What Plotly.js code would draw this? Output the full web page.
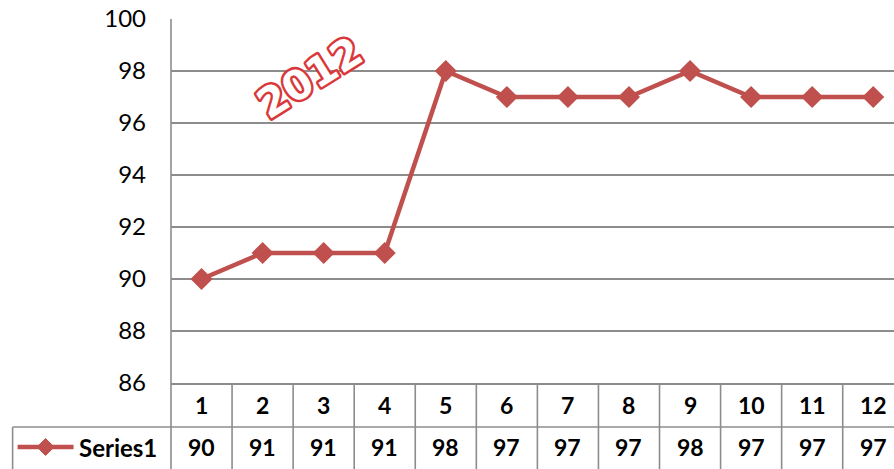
<!DOCTYPE html>
<html>
<head>
<meta charset="utf-8">
<script src="https://cdn.plot.ly/plotly-3.0.1.min.js"></script>
<style>
html,body{margin:0;padding:0;background:#fff;}
#chart{width:894px;height:469px;}
</style>
</head>
<body>
<div id="chart"></div>
<script>
// ---- data ----
var categories = [1,2,3,4,5,6,7,8,9,10,11,12];
var values = [90,91,91,91,98,97,97,97,98,97,97,97];
var seriesName = 'Series1';
var yTicks = [86,88,90,92,94,96,98,100];
var stampText = '2012';

var RED = '#c0504d';
var GRID = '#8c8c8c';
var FONT = 'Lato, "Noto Sans", sans-serif';

// pixel -> paper helpers (plot area: left 170.5, width 723.5, top 19, height 364)
var plotL = 170.5, plotW = 723.5, plotB = 383, plotH = 364;
function px(x){ return (x - plotL) / plotW; }
function py(y){ return -(y - plotB) / plotH; }
var headerMid = py(405);
var valueMid = py(447);
var rowLine = py(427);
var bottom = py(475);

var shapes = [];
// category boundary lines in the data table
for (var i = 0; i < categories.length; i++) {
  shapes.push({type:'line', xref:'x', yref:'paper', x0:categories[i]+0.5, x1:categories[i]+0.5,
    y0:0, y1:bottom, line:{color:GRID, width:1.6}});
}
// y axis line extended down through table
shapes.push({type:'line', xref:'paper', yref:'paper', x0:0, x1:0, y0:1, y1:bottom, line:{color:GRID, width:1.6}});
// row separator line (from legend cell to right)
shapes.push({type:'line', xref:'paper', yref:'paper', x0:px(12), x1:1, y0:rowLine, y1:rowLine, line:{color:GRID, width:1.6}});
// legend cell left border
shapes.push({type:'line', xref:'paper', yref:'paper', x0:px(12), x1:px(12), y0:rowLine, y1:bottom, line:{color:GRID, width:1.6}});
// legend key: line + diamond
shapes.push({type:'line', xref:'paper', yref:'paper', x0:px(17), x1:px(73), y0:valueMid, y1:valueMid, line:{color:RED, width:4.5}});
var dc = 45, dh = 8.5, dy = 447;
shapes.push({type:'path', xref:'paper', yref:'paper',
  path:'M'+px(dc-dh)+','+py(dy)+' L'+px(dc)+','+py(dy-dh)+' L'+px(dc+dh)+','+py(dy)+' L'+px(dc)+','+py(dy+dh)+' Z',
  fillcolor:RED, line:{color:RED, width:1}});

var annotations = [];
for (var j = 0; j < categories.length; j++) {
  annotations.push({x:categories[j], xref:'x', y:headerMid, yref:'paper', text:'<b>'+categories[j]+'</b>',
    showarrow:false, font:{family:FONT, size:23, color:'#000'}, xanchor:'center', yanchor:'middle'});
  annotations.push({x:categories[j], xref:'x', y:valueMid, yref:'paper', text:'<b>'+values[j]+'</b>',
    showarrow:false, font:{family:FONT, size:23, color:'#000'}, xanchor:'center', yanchor:'middle'});
}
annotations.push({x:px(76), xref:'paper', y:valueMid, yref:'paper', text:'<b>'+seriesName+'</b>',
  showarrow:false, font:{family:FONT, size:24, color:'#000'}, xanchor:'left', yanchor:'middle'});
annotations.push({x:2.77, xref:'x', y:97.72, yref:'y', text:'<b>'+stampText+'</b>', showarrow:false,
  textangle:-32, font:{family:'"DejaVu Sans", sans-serif', size:41, color:'#ffffff'}, xanchor:'center', yanchor:'middle'});

var trace = {
  x: categories, y: values, name: seriesName, type:'scatter', mode:'lines+markers',
  line:{color:RED, width:4.5}, marker:{symbol:'diamond', size:17, color:RED},
  cliponaxis:false
};

var layout = {
  width:894, height:469,
  margin:{l:170.5, r:0, t:19, b:86},
  paper_bgcolor:'#fff', plot_bgcolor:'#fff',
  font:{family:FONT, color:'#000'},
  showlegend:false,
  xaxis:{range:[0.5, 12.34], showgrid:false, zeroline:false, showticklabels:false, ticks:'',
    showline:true, linecolor:GRID, linewidth:1.6, fixedrange:true},
  yaxis:{range:[86,100], tickvals:yTicks, ticktext:yTicks.map(String), showgrid:true, gridcolor:GRID, gridwidth:1.6,
    zeroline:false, showline:false, ticks:'', ticklabelstandoff:24,
    tickfont:{family:FONT, size:24, color:'#000'}, fixedrange:true},
  shapes:shapes,
  annotations:annotations
};

Plotly.newPlot('chart', [trace], layout, {displayModeBar:false, staticPlot:true}).then(function(gd){
  var texts = gd.querySelectorAll('.annotation-text');
  texts.forEach(function(t){
    if (t.textContent === stampText) {
      t.style.stroke = '#d9383a';
      t.style.strokeWidth = '5px';
      t.style.paintOrder = 'stroke';
      t.style.strokeLinejoin = 'round';
    }
  });
});
</script>
</body>
</html>
